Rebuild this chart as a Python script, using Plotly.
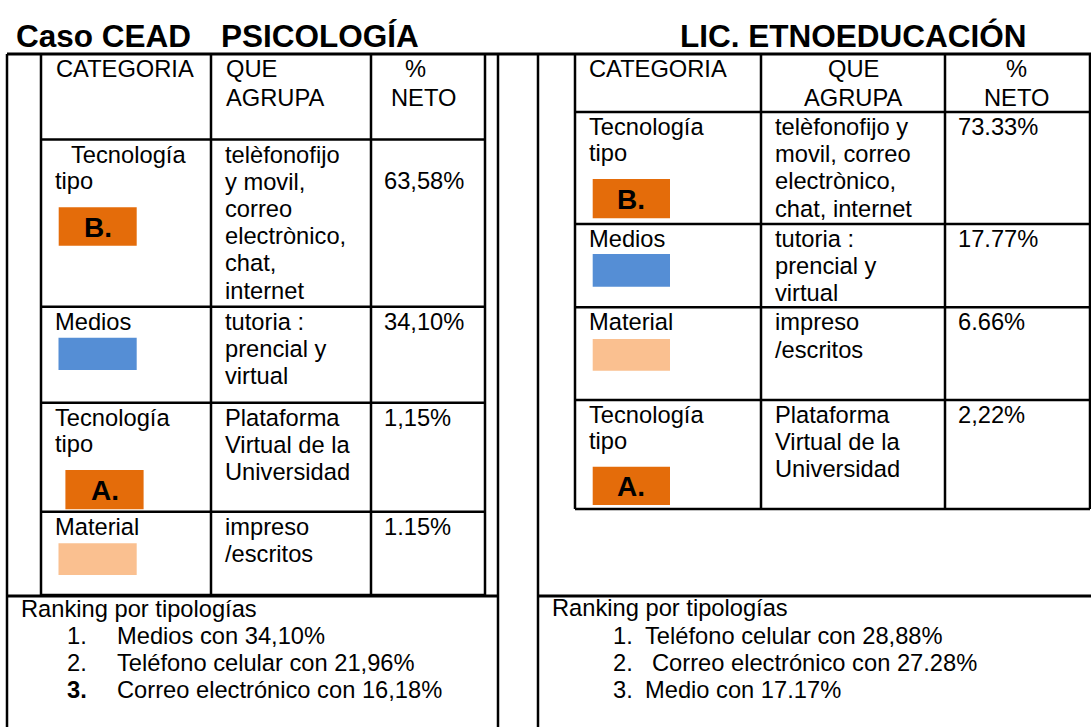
import plotly.graph_objects as go

# ---------------- data ----------------
title_left_a = "Caso CEAD"
title_left_b = "PSICOLOGÍA"
title_right = "LIC. ETNOEDUCACIÓN"

header_cat = "CATEGORIA"
header_group = ["QUE", "AGRUPA"]
header_pct = ["%", "NETO"]

left_categories = [["Tecnología", "tipo"], ["Medios"], ["Tecnología", "tipo"], ["Material"]]
left_swatch_labels = ["B.", "", "A.", ""]
left_swatch_kinds = ["tech", "medios", "tech", "material"]
left_groups = [["telèfonofijo", "y movil,", "correo", "electrònico,", "chat,", "internet"],
               ["tutoria :", "prencial y", "virtual"],
               ["Plataforma", "Virtual de la", "Universidad"],
               ["impreso", "/escritos"]]
left_pct = ["63,58%", "34,10%", "1,15%", "1.15%"]

right_categories = [["Tecnología", "tipo"], ["Medios"], ["Material"], ["Tecnología", "tipo"]]
right_swatch_labels = ["B.", "", "", "A."]
right_swatch_kinds = ["tech", "medios", "material", "tech"]
right_groups = [["telèfonofijo y", "movil, correo", "electrònico,", "chat, internet"],
                ["tutoria :", "prencial y", "virtual"],
                ["impreso", "/escritos"],
                ["Plataforma", "Virtual de la", "Universidad"]]
right_pct = ["73.33%", "17.77%", "6.66%", "2,22%"]

ranking_title = "Ranking por tipologías"
ranking_nums = ["1.", "2.", "3."]
ranking_left = ["Medios con 34,10%", "Teléfono celular con 21,96%", "Correo electrónico con 16,18%"]
ranking_right = ["Teléfono celular con 28,88%", " Correo electrónico con 27.28%", "Medio con 17.17%"]

# ---------------- layout / style ----------------
W, H = 1091, 727
FONT = "Liberation Sans, Arial, sans-serif"
FS = 23.7
LS = 27.2
LW = 2.5
COLORS = {"tech": "#E46C0A", "medios": "#558ED5", "material": "#FAC090"}

L_COLS = [41, 211, 371, 485]
L_ROWS = [54, 139.5, 306.7, 402.7, 511.7, 595]
L_SW = [(58.7, 207.3, 136.7, 245.7), (58.5, 337.7, 136.7, 370), (65.4, 470, 143.6, 509.3), (58.5, 543.3, 136.7, 575)]
L_CAT_INDENT = [16, 0, 0, 0]

R_COLS = [575, 761, 945, 1090]
R_ROWS = [54, 112, 224, 307.3, 400, 509]
R_SW = [(592.7, 179, 670, 218.3), (592.7, 254, 670, 286.7), (592.7, 339, 670, 370.7), (592.7, 466.7, 670, 505)]

RANK_BASE = 617
RANK_FIRST = 644.5
RANK_STEP = 27

shapes = []
annotations = []


def line(x0, y0, x1, y1, w=LW):
    shapes.append(dict(type="line", xref="x", yref="y", x0=x0, y0=y0, x1=x1, y1=y1,
                       line=dict(color="black", width=w)))


def text(t, x, baseline, size=FS, bold=False, anchor="left"):
    if bold:
        t = "<b>" + t + "</b>"
    xa = x - 2 if anchor == "left" else x
    annotations.append(dict(text=t, x=xa, y=baseline - 0.3465 * size, xref="x", yref="y",
                            xanchor=anchor, yanchor="middle", showarrow=False,
                            font=dict(family=FONT, size=size, color="black")))


# titles
text(title_left_a, 15.5, 46.5, size=31.5, bold=True)
text(title_left_b, 221.4, 46.5, size=31.5, bold=True)
text(title_right, 680, 46.5, size=31.5, bold=True)

# frame lines
line(7, 54, 1091, 54, 3)
line(7, 54, 7, H)
line(498, 54, 498, H)
line(538, 54, 538, H)
line(7, 596, 498, 596, 3)
line(538, 596, 1091, 596, 3)

# left table grid
for x in L_COLS:
    line(x, L_ROWS[0], x, L_ROWS[-1])
for y in L_ROWS[1:]:
    line(L_COLS[0], y, L_COLS[-1], y)

# right table grid
for x in R_COLS:
    line(x, R_ROWS[0], x, R_ROWS[-1])
for y in R_ROWS[1:]:
    line(R_COLS[0], y, R_COLS[-1], y)

# headers
text(header_cat, 56, 77.7)
for i, t in enumerate(header_group):
    text(t, 225.5, 77.7 + i * 28.3)
text(header_pct[0], 404.6, 77.7)
text(header_pct[1], 390.8, 106)
text(header_cat, 589, 77.7)
for i, t in enumerate(header_group):
    text(t, (R_COLS[1] + R_COLS[2]) / 2, 77.7 + i * 28.3, anchor="center")
for i, t in enumerate(header_pct):
    text(t, (R_COLS[2] + R_COLS[3]) / 2 - 1, 77.7 + i * 28.3, anchor="center")


def swatch(box, kind, label):
    x0, y0, x1, y1 = box
    shapes.append(dict(type="rect", xref="x", yref="y", x0=x0, y0=y0, x1=x1, y1=y1,
                       fillcolor=COLORS[kind], line=dict(width=0), layer="above"))
    if label:
        annotations.append(dict(text="<b>" + label + "</b>", x=(x0 + x1) / 2, y=(y0 + y1) / 2 + 1,
                                xref="x", yref="y", xanchor="center", yanchor="middle",
                                showarrow=False, font=dict(family=FONT, size=28, color="black")))


def body(cols, rows, cats, groups, pcts, sws, kinds, labels, indent, pct_second_line):
    for r in range(len(cats)):
        b = rows[r + 1] + 23.3
        for k, t in enumerate(cats[r]):
            text(t, cols[0] + 14 + (indent[r] if k == 0 else 0), b + k * 26.3)
        for k, t in enumerate(groups[r]):
            text(t, cols[1] + 14.3, b + k * LS)
        text(pcts[r], cols[2] + 13.3, b + (26.7 if pct_second_line[r] else 0))
        swatch(sws[r], kinds[r], labels[r])


body(L_COLS, L_ROWS, left_categories, left_groups, left_pct, L_SW, left_swatch_kinds,
     left_swatch_labels, L_CAT_INDENT, [True, False, False, False])
body(R_COLS, R_ROWS, right_categories, right_groups, right_pct, R_SW, right_swatch_kinds,
     right_swatch_labels, [0, 0, 0, 0], [False] * 4)

# ranking
text(ranking_title, 21, RANK_BASE)
for i, t in enumerate(ranking_left):
    text(ranking_nums[i], 67, RANK_FIRST + i * RANK_STEP, bold=(i == 2))
    text(t, 117, RANK_FIRST + i * RANK_STEP)
text(ranking_title, 552, RANK_BASE - 0.5)
for i, t in enumerate(ranking_right):
    text(ranking_nums[i], 612.7, RANK_FIRST + i * RANK_STEP)
    text(t.strip(), 645.4 + (7 if t.startswith(" ") else 0), RANK_FIRST + i * RANK_STEP)

fig = go.Figure()
fig.update_layout(
    width=W, height=H, autosize=False,
    margin=dict(l=0, r=0, t=0, b=0),
    paper_bgcolor="white", plot_bgcolor="white",
    xaxis=dict(range=[0, W], visible=False, fixedrange=True),
    yaxis=dict(range=[H, 0], visible=False, fixedrange=True),
    shapes=shapes, annotations=annotations, showlegend=False,
)
fig.write_html("out.html", config={"staticPlot": True},
               post_script="document.body.style.margin='0';document.body.style.overflow='hidden';")
